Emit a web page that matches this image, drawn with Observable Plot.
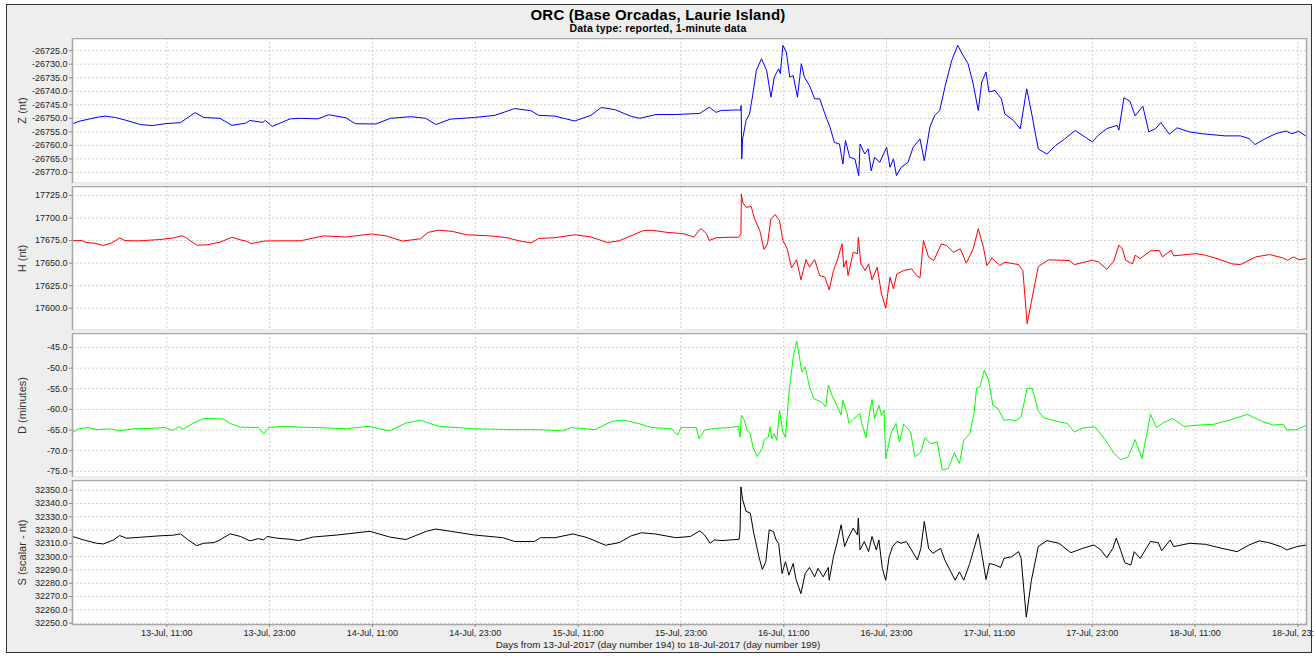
<!DOCTYPE html>
<html><head><meta charset="utf-8">
<script src="https://cdn.jsdelivr.net/npm/d3@7"></script>
<script src="https://cdn.jsdelivr.net/npm/@observablehq/plot@0.6"></script>
<style>
body{margin:0;background:#fff;}
#wrap{position:relative;width:1314px;height:656px;overflow:hidden;font-family:"Liberation Sans",Arial,sans-serif;}
#box{position:absolute;left:6px;top:4px;width:1304px;height:647px;border:1px solid #333;background:#eeeeee;}
.txt{position:absolute;left:6px;width:1304px;text-align:center;color:#000;white-space:nowrap;}
.panel{position:absolute;left:0;}
.panel svg{overflow:hidden;}
.ylab{position:absolute;width:200px;text-align:center;font-size:11px;line-height:11px;color:#333;white-space:nowrap;transform:rotate(-90deg);transform-origin:center center;}
</style></head><body>
<div id="wrap">
<div id="box"></div>
<div class="txt" style="top:7px;font-size:15px;line-height:15px;font-weight:bold;letter-spacing:0.2px;">ORC (Base Orcadas, Laurie Island)</div>
<div class="txt" style="top:23px;font-size:10.5px;line-height:10.5px;font-weight:bold;letter-spacing:0.2px;">Data type: reported, 1-minute data</div>
<div class="txt" style="top:640px;font-size:9.8px;line-height:10px;color:#222;">Days from 13-Jul-2017 (day number 194) to 18-Jul-2017 (day number 199)</div>
</div>
<script>
// Hours after 13-Jul-2017 00:00 and values
const zSeries = [[0,-26752],[0.9,-26751],[2.9,-26749.6],[3.8,-26749.2],[5.0,-26749.7],[6.1,-26750.6],[7.9,-26752.3],[9.3,-26752.7],[10.8,-26752],[12.6,-26751.6],[14.3,-26747.9],[15.3,-26749.7],[17.2,-26750],[18.6,-26752.6],[20.2,-26751.8],[20.7,-26750.8],[22.2,-26751.5],[22.5,-26750.8],[23.3,-26753],[25.4,-26750.2],[26.6,-26750],[28.6,-26750.2],[29.9,-26748.7],[31.9,-26749.8],[33.0,-26752],[35.4,-26752.1],[37.1,-26750],[39.5,-26749.4],[41.2,-26750],[42.4,-26752.3],[44.1,-26750.3],[46.9,-26749.7],[49.3,-26748.9],[51.6,-26746.4],[53.5,-26747.2],[54.4,-26748.9],[56.3,-26749.2],[58.6,-26751],[60.5,-26748.9],[61.7,-26746],[63.3,-26746.8],[65.2,-26749.3],[66.2,-26750],[68.1,-26748.6],[70.4,-26748.6],[73.2,-26748.2],[74.3,-26745.9],[75.1,-26747.8],[75.7,-26747.1],[77.7,-26746.9],[77.95,-26747.1],[78.03,-26745.3],[78.1,-26765],[78.2,-26757.6],[78.6,-26750.8],[79.0,-26748.4],[79.4,-26741],[79.8,-26732.3],[80.4,-26728],[81.0,-26732.3],[81.5,-26742.2],[81.9,-26734.8],[82.4,-26731.7],[82.6,-26733.5],[82.9,-26723],[83.3,-26725.5],[83.7,-26734.8],[84.1,-26734.2],[84.6,-26742.2],[85.05,-26729.8],[85.4,-26734.8],[86.0,-26737.9],[86.6,-26742.8],[87.2,-26742.8],[87.8,-26748.4],[88.4,-26753.3],[88.9,-26758.9],[89.5,-26759.5],[89.9,-26766.9],[90.2,-26758.2],[90.7,-26764.4],[91.3,-26765],[91.75,-26771.2],[91.9,-26759.5],[92.45,-26763.2],[92.85,-26761.3],[93.2,-26769.4],[93.6,-26764.4],[94.2,-26766.3],[95.0,-26760.7],[95.4,-26768.1],[95.8,-26765],[96.15,-26771.2],[96.7,-26768.1],[97.5,-26766.3],[98.1,-26760.7],[98.9,-26757.6],[99.4,-26765.7],[100.05,-26753.3],[100.6,-26749],[101.2,-26747.1],[101.8,-26738.5],[102.6,-26728.6],[103.3,-26723],[103.8,-26726.1],[104.5,-26729.8],[105.1,-26737.2],[105.7,-26747.1],[106.1,-26736.6],[106.6,-26732.9],[106.95,-26740.3],[107.65,-26739.7],[108.4,-26742.8],[108.8,-26748.4],[109.8,-26750.8],[110.6,-26753.9],[111.35,-26739.1],[111.94,-26748.4],[112.7,-26761.3],[113.7,-26763.2],[114.7,-26760.1],[115.8,-26757.6],[117.0,-26754.5],[118.2,-26757],[119.0,-26758.7],[119.7,-26756.3],[120.7,-26753.8],[121.9,-26752.6],[122.1,-26754.4],[122.7,-26742.4],[123.4,-26743.7],[124.0,-26749.1],[124.9,-26745.5],[125.6,-26755],[126.4,-26753.8],[127.0,-26751.6],[128.0,-26755.9],[128.9,-26753.5],[130.3,-26755],[131.8,-26755.7],[134.5,-26756.5],[136.3,-26756.5],[137.3,-26757.5],[138.0,-26759.7],[139.2,-26757.5],[140.4,-26755.7],[141.6,-26754.7],[142.3,-26755.7],[143.1,-26754.8],[144.0,-26756.7]];

const hSeries = [[0,17675],[1.1,17675],[1.6,17672.9],[2.6,17672.1],[3.6,17669.5],[4.6,17672.5],[5.5,17678],[6.1,17675],[7.7,17674.7],[10.2,17676.2],[11.8,17678],[12.8,17680.3],[13.3,17678],[14.5,17669.9],[15.7,17670.3],[17.2,17673.2],[18.6,17678.7],[19.6,17675.9],[20.4,17674],[20.8,17671.7],[22.3,17674.3],[23.1,17674.7],[26.6,17674.8],[29.3,17680.2],[31.9,17679],[34.9,17682.4],[36.6,17680.2],[38.5,17674.5],[40.6,17677],[41.5,17684.1],[42.7,17686.5],[44.3,17685.3],[46.0,17681.5],[48.8,17680.2],[50.7,17678.2],[52.1,17674.8],[53.5,17672.4],[54.4,17677.4],[56.3,17678.2],[58.6,17681.5],[60.5,17679],[62.4,17672.9],[63.8,17674.8],[66.6,17686.1],[67.6,17686.5],[69.4,17684.1],[71.3,17682.7],[72.5,17679],[73.2,17687.4],[73.4,17688],[74.0,17682.5],[74.3,17675.1],[75.1,17678.1],[76.5,17678.7],[77.7,17678.7],[78.0,17682.5],[78.05,17726.9],[78.2,17717.6],[78.6,17712],[79.2,17712.8],[79.6,17699.1],[80.2,17686.2],[80.7,17665.1],[81.1,17671.4],[81.5,17699.1],[82.0,17703.9],[82.5,17697.3],[82.9,17675.1],[83.4,17665.9],[83.9,17644.8],[84.5,17653.7],[85.0,17631.5],[85.6,17654],[86.0,17645.5],[86.6,17654],[87.2,17636.2],[87.8,17634.4],[88.3,17620.4],[88.8,17641.8],[89.3,17654.8],[89.8,17671.4],[90.0,17645.5],[90.3,17652.9],[90.5,17636.2],[91.1,17662.1],[91.6,17660.3],[91.7,17678.7],[92.0,17649.2],[92.5,17641.8],[92.9,17649.2],[93.3,17631.5],[93.9,17645.5],[94.4,17615.9],[94.9,17600],[95.4,17634.4],[95.8,17621.5],[96.2,17638.1],[97.0,17641.8],[97.9,17643.7],[98.5,17636.2],[98.9,17633.7],[99.3,17675.1],[99.9,17656.6],[100.5,17652.9],[101.4,17671.4],[102.0,17669.5],[102.8,17662.1],[103.6,17665.9],[104.3,17649.9],[105.1,17665.9],[105.7,17688.1],[106.3,17667.6],[106.7,17647.3],[107.3,17655.9],[108.2,17647.3],[108.8,17651],[110.4,17648.4],[110.9,17641.8],[111.4,17582.7],[112.0,17612.2],[112.7,17646.2],[113.9,17653.7],[116.3,17652.9],[116.9,17648.4],[119.0,17653.2],[119.7,17651.4],[120.7,17643.2],[121.5,17652.1],[122.1,17669.9],[122.5,17666.2],[122.9,17653.2],[123.7,17649.2],[124.0,17658.8],[124.6,17655.1],[125.8,17663.6],[126.8,17664.3],[127.2,17657],[128.2,17664.3],[128.5,17658.1],[131.1,17660.6],[132.2,17658.8],[133.8,17654.3],[135.3,17649.2],[136.3,17648.4],[138.1,17657],[139.7,17659.5],[141.2,17655.9],[141.8,17653.2],[142.5,17657],[143.1,17653.7],[144.0,17655.1]];

const dSeries = [[0,-64.4],[0.1,-65.5],[0.7,-64.7],[1.8,-64.4],[2.8,-64.9],[4.4,-64.7],[5.5,-65.2],[7.1,-64.7],[9.0,-64.6],[10.8,-64.4],[11.7,-65.1],[12.4,-64.2],[12.9,-64.8],[14.1,-63.3],[15.3,-62.2],[17.6,-62.3],[18.4,-63.4],[19.6,-64.3],[21.7,-64.4],[22.3,-65.9],[22.9,-64.4],[24.6,-64.1],[26.6,-64.3],[28.6,-64.4],[31.9,-64.7],[34.5,-64.1],[37.0,-65.2],[38.9,-63.3],[40.6,-62.6],[42.7,-64.1],[46.9,-64.7],[51.6,-64.9],[54.4,-64.9],[57.2,-65.2],[58.2,-64.4],[61.0,-64.9],[62.9,-62.9],[64.3,-62.6],[66.2,-63.5],[67.6,-64.4],[69.9,-64.7],[70.6,-66.2],[71.0,-64.4],[72.1,-64.4],[72.8,-64.4],[73.1,-67.1],[73.75,-65.0],[74.9,-64.6],[76.8,-64.4],[77.7,-64.1],[77.9,-66.7],[78.05,-61.4],[78.4,-62.6],[78.7,-65.0],[79.1,-65.9],[79.4,-69.1],[79.9,-71.4],[80.5,-69.5],[80.7,-67.5],[81.2,-66.7],[81.4,-64.2],[81.6,-67.1],[81.9,-65.9],[82.2,-67.5],[82.5,-60.2],[82.9,-65.5],[83.2,-66.8],[83.6,-56.2],[84.1,-47.3],[84.5,-43.4],[84.7,-45.6],[85.1,-50.9],[85.5,-49.7],[86.0,-54.5],[86.5,-57.4],[87.4,-58.2],[87.9,-59.4],[88.2,-54.1],[88.7,-57.0],[89.2,-59.0],[89.7,-61.4],[89.9,-57.8],[90.4,-61.0],[90.6,-63.4],[91.2,-62.2],[91.9,-61.0],[92.1,-63.4],[92.6,-66.8],[92.9,-62.2],[93.3,-57.6],[93.6,-62.2],[94.1,-59.0],[94.4,-61.4],[94.7,-60.2],[94.9,-71.9],[95.5,-65.9],[96.1,-63.4],[96.5,-67.9],[97.0,-63.6],[97.8,-65.5],[98.3,-71.5],[99.0,-70.3],[99.5,-66.8],[100.1,-68.3],[100.9,-67.9],[101.5,-74.7],[102.2,-74.3],[102.9,-70.5],[103.5,-73.1],[104.0,-67.5],[104.7,-65.9],[105.2,-61.0],[105.5,-54.9],[105.9,-54.5],[106.4,-50.5],[106.9,-52.9],[107.4,-59.0],[108.0,-59.8],[108.7,-62.6],[109.4,-62.5],[110.0,-62.8],[110.7,-61.8],[111.4,-54.9],[112.0,-54.9],[112.7,-60.4],[113.3,-62.0],[114.7,-62.8],[116.1,-63.4],[116.9,-65.5],[117.9,-64.5],[119.3,-64.2],[120.5,-67.3],[121.4,-70.3],[122.3,-72.2],[123.2,-71.5],[124.0,-67.3],[124.8,-71.9],[125.8,-61.2],[126.5,-64.4],[127.2,-63.3],[128.4,-62.2],[129.7,-64.1],[131.3,-63.8],[133.2,-63.6],[135.0,-62.6],[137.1,-61.2],[138.7,-62.8],[140.1,-63.8],[141.3,-63.6],[141.7,-65.0],[142.9,-64.9],[144.0,-63.8]];

const sSeries = [[0,32315.2],[1.3,32312.6],[2.8,32310.1],[3.6,32309.6],[4.8,32312.6],[5.5,32315.9],[6.3,32313.9],[7.9,32314.6],[10.2,32315.7],[11.8,32316.2],[12.6,32317.2],[13.5,32312.6],[14.5,32308.3],[15.3,32310.1],[16.5,32310.6],[17.2,32312.6],[18.4,32317.2],[19.6,32315.2],[20.7,32311.9],[21.7,32313.6],[22.3,32312.6],[22.7,32315.2],[23.9,32313.9],[25.4,32313.1],[26.4,32312.1],[28.1,32314.8],[30.9,32316.3],[34.7,32319.1],[37.0,32314.8],[38.9,32312.9],[41.3,32319.1],[42.4,32320.8],[44.1,32319.1],[46.9,32316.3],[50.2,32314.3],[51.6,32311.4],[53.9,32311.4],[54.6,32314.3],[56.3,32314.3],[58.4,32317.1],[60.1,32314.3],[62.2,32308.6],[63.8,32310.6],[65.2,32315.7],[66.4,32318],[68.0,32317.1],[70.4,32314.3],[72.1,32315.2],[73.2,32319.4],[73.75,32316.4],[74.4,32310.1],[74.9,32312.6],[75.8,32312.1],[77.8,32313.1],[77.9,32320.2],[78.0,32352.5],[78.2,32342.9],[78.6,32334.1],[79.1,32332.8],[79.5,32317.7],[80.1,32300],[80.5,32290.4],[80.9,32296.2],[81.3,32320.2],[81.8,32318.9],[82.1,32312.6],[82.4,32310.1],[82.8,32287.4],[83.2,32296.2],[83.6,32286.1],[84.1,32294.9],[84.4,32283.6],[85.0,32272.2],[85.5,32287.4],[86.0,32291.9],[86.6,32284.8],[87.0,32291.2],[87.6,32284.8],[88.2,32291.9],[88.3,32282.3],[88.8,32300],[89.2,32310.1],[89.7,32324],[90.1,32307.6],[90.5,32313.9],[91.1,32321.5],[91.6,32316.4],[91.7,32329],[91.9,32305.1],[92.4,32311.4],[92.9,32303.8],[93.3,32315.2],[93.8,32305.1],[94.1,32312.6],[94.5,32291.2],[94.9,32282.3],[95.3,32300],[95.7,32307.6],[96.2,32311.4],[96.7,32310.1],[97.3,32311.4],[97.9,32305.1],[98.6,32297.5],[99.0,32306.3],[99.4,32326.5],[99.9,32306.3],[100.4,32302.5],[101.3,32306.3],[101.8,32297.5],[102.4,32289.9],[103.0,32282.3],[103.5,32288.6],[104.0,32282.3],[104.7,32294.9],[105.7,32317.2],[106.1,32302.5],[106.6,32282.8],[107.0,32294.9],[107.7,32293.7],[108.3,32291.9],[108.7,32298.7],[109.6,32300],[110.4,32303.8],[110.7,32298.7],[111.3,32254.5],[111.9,32282.3],[112.7,32307.6],[113.7,32312.1],[115.1,32310.1],[116.5,32303],[117.9,32306.3],[119.2,32308.8],[120.0,32305.1],[120.7,32299.2],[121.4,32306.3],[121.8,32313.9],[122.3,32305.1],[122.8,32295.5],[123.5,32293.7],[123.9,32303.8],[124.6,32298.7],[125.3,32306.3],[125.8,32311.4],[126.7,32310.6],[127.1,32304.5],[128.1,32312.6],[128.5,32307.6],[130.4,32310.1],[132.2,32309.3],[134.1,32306.3],[135.9,32303.8],[137.3,32308.8],[138.5,32311.9],[139.6,32310.6],[141.0,32307.6],[141.7,32305.1],[142.9,32307.6],[144.0,32308.8]];

const zTicks = [-26725,-26730,-26735,-26740,-26745,-26750,-26755,-26760,-26765,-26770];
const hTicks = [17600,17625,17650,17675,17700,17725];
const dTicks = [-45,-50,-55,-60,-65,-70,-75];
const sTicks = [32250,32260,32270,32280,32290,32300,32310,32320,32330,32340,32350];

const xTickHours = [11,23,35,47,59,71,83,95,107,119,131,143];
const xTickLabels = ["13-Jul, 11:00","13-Jul, 23:00","14-Jul, 11:00","14-Jul, 23:00","15-Jul, 11:00","15-Jul, 23:00","16-Jul, 11:00","16-Jul, 23:00","17-Jul, 11:00","17-Jul, 23:00","18-Jul, 11:00","18-Jul, 23:00"];

const panelLabels = ["Z (nt)","H (nt)","D (minutes)","S (scalar - nt)"];
const panelColors = ["#0000ff","#ff0000","#00ff00","#000000"];

const start = Date.UTC(2017, 6, 13);
const toDate = h => new Date(start + h * 3600e3);
const xTicks = xTickHours.map(toDate);
const labelByTime = new Map(xTicks.map((d, i) => [+d, xTickLabels[i]]));

const panels = [
  {series: zSeries, ticks: zTicks, domain: [-26774.1, -26720.5], top: 38, h: 145},
  {series: hSeries, ticks: hTicks, domain: [17575.3, 17735], top: 186, h: 144},
  {series: dSeries, ticks: dTicks, domain: [-76.5, -41.6], top: 333, h: 144},
  {series: sSeries, ticks: sTicks, domain: [32249, 32357.3], top: 480, h: 144}
];

const wrap = document.getElementById("wrap");
panels.forEach((p, i) => {
  const last = i === panels.length - 1;
  const data = p.series.map(([h, v]) => ({t: toDate(h), v}));
  const grid = {stroke: "#d0d0d0", strokeOpacity: 1, strokeDasharray: "2,2"};
  const marks = [
    Plot.frame({fill: "white", stroke: "none"}),
    Plot.gridX(xTicks, grid),
    Plot.gridY(p.ticks, grid),
    Plot.lineY(data, {x: "t", y: "v", stroke: panelColors[i], strokeWidth: 1}),
    Plot.frame({stroke: "#a8a8a8", strokeWidth: 1.5}),
    Plot.axisY(p.ticks, {tickFormat: d => d.toFixed(1), tickSize: 3, tickPadding: 2, stroke: "#888", fill: "#222", label: null})
  ];
  if (last) {
    marks.push(Plot.axisX(xTicks, {tickFormat: d => labelByTime.get(+d), tickSize: 3, tickPadding: 2, stroke: "#888", fill: "#222", label: null}));
  }
  const chart = Plot.plot({
    width: 1314,
    height: p.h + (last ? 18 : 0),
    marginLeft: 72, marginRight: 8, marginTop: 0, marginBottom: last ? 18 : 0,
    style: {fontFamily: "'Liberation Sans', Arial, sans-serif", fontSize: "9px", background: "transparent", color: "#222"},
    x: {type: "utc", domain: [toDate(0), toDate(144)], axis: null},
    y: {domain: p.domain, axis: null},
    marks
  });
  const div = document.createElement("div");
  div.className = "panel";
  div.style.top = p.top + "px";
  div.appendChild(chart);
  wrap.appendChild(div);
  const lab = document.createElement("div");
  lab.className = "ylab";
  lab.textContent = panelLabels[i];
  lab.style.left = (22 - 100) + "px";
  lab.style.top = (p.top + p.h / 2 - 5.5) + "px";
  wrap.appendChild(lab);
});
</script>
</body></html>
